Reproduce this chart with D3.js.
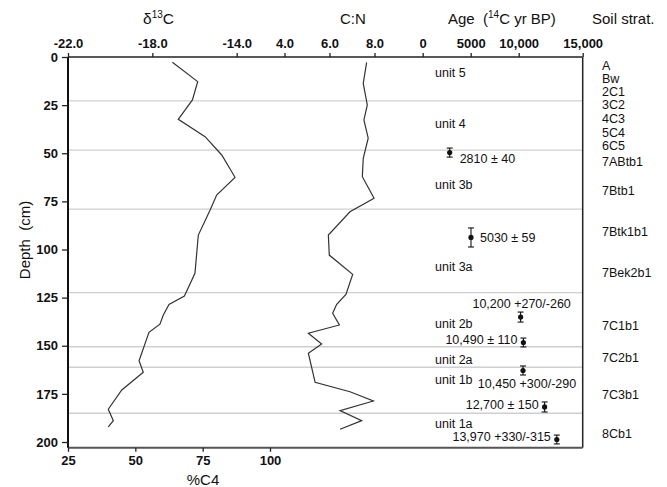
<!DOCTYPE html>
<html>
<head>
<meta charset="utf-8">
<script src="https://cdn.jsdelivr.net/npm/d3@7"></script>
<style>
  body { margin: 0; background: #fff; }
  svg { display: block; }
  text { font-family: "Liberation Sans", Arial, Helvetica, sans-serif; fill: #111; }
</style>
</head>
<body>
<svg id="chart" width="667" height="487"></svg>
<script>
// Stable carbon isotope profile (per mil, VPDB) against depth (cm)
const d13cDepth  = [2.75, 12.8, 22.3, 32.4, 41.4, 50.9, 62.5, 71.7, 79.5, 92.5, 112.4, 124.2, 128.5, 134.0, 138.8, 143.0, 157.8, 163.8, 173.0, 183.0, 188.9, 192.1];
const d13cValues = [-17.05, -15.85, -16.10, -16.77, -15.50, -14.71, -14.08, -14.95, -15.26, -15.82, -15.98, -16.48, -17.21, -17.48, -17.64, -18.16, -18.63, -18.43, -19.45, -20.09, -19.85, -20.09];

// C:N ratio against depth (cm)
const cnDepth  = [2.75, 13.7, 24.9, 32.7, 42.2, 52.6, 62.2, 73.4, 80.4, 92.5, 102.9, 112.9, 123.3, 128.5, 133.1, 139.2, 143.5, 149.1, 153.9, 169.0, 173.9, 178.7, 183.7, 188.9, 193.4];
const cnValues = [7.65, 7.50, 7.68, 7.53, 7.72, 7.50, 7.46, 7.98, 6.91, 5.95, 5.99, 7.03, 6.73, 6.32, 6.14, 6.44, 5.06, 5.65, 5.06, 5.36, 6.91, 7.95, 6.47, 7.43, 6.47];

// Stratigraphic unit boundaries and unit names (depth in cm)
const unitBoundaries = [22.8, 48.4, 79.0, 122.4, 150.5, 161.2, 185.1];
const unitNames  = ["unit 5", "unit 4", "unit 3b", "unit 3a", "unit 2b", "unit 2a", "unit 1b", "unit 1a"];
const unitDepths = [7.8, 34.3, 66.1, 108.9, 138.7, 157.0, 167.4, 190.6];

// Soil horizons
const soilHorizons = ["A", "Bw", "2C1", "3C2", "4C3", "5C4", "6C5", "7ABtb1", "7Btb1", "7Btk1b1", "7Bek2b1", "7C1b1", "7C2b1", "7C3b1", "8Cb1"];
const soilDepths   = [4.2, 11.2, 17.7, 24.7, 32.0, 39.0, 46.0, 54.5, 69.4, 90.4, 112.2, 139.5, 156.2, 175.2, 195.5];

// Radiocarbon ages (14C yr BP) with sampled depth intervals
const ageValues = [2810, 5030, 10200, 10490, 10450, 12700, 13970];
const ageLabels = ["2810 \u00b1 40", "5030 \u00b1 59", "10,200 +270/-260", "10,490 \u00b1 110", "10,450 +300/-290", "12,700 \u00b1 150", "13,970 +330/-315"];
const ageDepthTop    = [47.3, 88.8, 132.5, 146.0, 160.5, 179.2, 196.4];
const ageDepthBottom = [52.0, 98.7, 137.7, 150.6, 165.2, 184.4, 201.0];
const ageLabelSide   = ["lowerright", "right", "above", "left", "below", "left", "left"];

// Axis ticks
const depthTicks = [0, 25, 50, 75, 100, 125, 150, 175, 200];
const d13cTicks  = [-22, -18, -14];
const cnTicks    = [4, 6, 8];
const ageTicks   = [0, 5000, 10000, 15000];
const c4Ticks    = [25, 50, 75, 100];

const svg = d3.select("#chart");
const plotLeft = 68, plotRight = 582.7, plotTop = 57;

const y     = d3.scaleLinear().domain([0, 200]).range([plotTop, 442]);
const xD13  = d3.scaleLinear().domain([-22, -14]).range([68, 236.7]);
const xCN   = d3.scaleLinear().domain([4, 8]).range([284.5, 374.5]);
// age axis is compressed beyond 14,000 so that 15,000 sits on the frame edge
const xAge  = d3.scaleLinear().domain([0, 14000, 15000]).range([422.7, 557.1, 582.7]);
const xC4   = d3.scaleLinear().domain([25, 100]).range([68, 270]);
const plotBottom = y(203);

// unit boundary lines
svg.append("g").selectAll("line").data(unitBoundaries).join("line")
  .attr("x1", plotLeft).attr("x2", plotRight)
  .attr("y1", d => y(d)).attr("y2", d => y(d))
  .attr("stroke", "#cfcfcf").attr("stroke-width", 1.4);

// profiles
const lineGen = (xs, depths, vals) => d3.line()
  .x((d, i) => xs(vals[i])).y((d, i) => y(depths[i]))(depths);

svg.append("path").attr("d", lineGen(xD13, d13cDepth, d13cValues))
  .attr("fill", "none").attr("stroke", "#333").attr("stroke-width", 1.2);
svg.append("path").attr("d", lineGen(xCN, cnDepth, cnValues))
  .attr("fill", "none").attr("stroke", "#333").attr("stroke-width", 1.2);

// frame
svg.append("line").attr("x1", plotLeft).attr("x2", plotRight).attr("y1", plotTop).attr("y2", plotTop)
  .attr("stroke", "#222").attr("stroke-width", 1.5);
svg.append("line").attr("x1", plotRight).attr("x2", plotRight).attr("y1", plotTop).attr("y2", plotBottom)
  .attr("stroke", "#222").attr("stroke-width", 1.5);
svg.append("line").attr("x1", plotLeft).attr("x2", plotRight).attr("y1", plotBottom).attr("y2", plotBottom)
  .attr("stroke", "#555").attr("stroke-width", 2);
svg.append("line").attr("x1", plotLeft).attr("x2", plotLeft).attr("y1", plotTop).attr("y2", plotBottom)
  .attr("stroke", "#111").attr("stroke-width", 2);

function styleAxis(g) {
  g.select(".domain").remove();
  g.selectAll(".tick line").attr("stroke", "#222").attr("stroke-width", 1.3);
  g.selectAll(".tick text").attr("font-size", 13).attr("font-weight", "bold")
    .attr("fill", "#111").style("font-family", '"Liberation Sans", Arial, sans-serif');
}

svg.append("g").attr("transform", `translate(${plotLeft},0)`)
  .call(d3.axisLeft(y).tickValues(depthTicks).tickSize(6).tickPadding(4))
  .call(styleAxis);

svg.append("g").attr("transform", `translate(0,${plotTop})`)
  .call(d3.axisTop(xD13).tickValues(d13cTicks).tickSize(4).tickPadding(5).tickFormat(d => d.toFixed(1)))
  .call(styleAxis);
svg.append("g").attr("transform", `translate(0,${plotTop})`)
  .call(d3.axisTop(xCN).tickValues(cnTicks).tickSize(4).tickPadding(5).tickFormat(d => d.toFixed(1)))
  .call(styleAxis);
svg.append("g").attr("transform", `translate(0,${plotTop})`)
  .call(d3.axisTop(xAge).tickValues(ageTicks).tickSize(4).tickPadding(5)
    .tickFormat(d => d >= 10000 ? d3.format(",")(d) : String(d)))
  .call(styleAxis);

svg.append("g").attr("transform", `translate(0,${plotBottom})`)
  .call(d3.axisBottom(xC4).tickValues(c4Ticks).tickSize(4).tickPadding(4))
  .call(styleAxis);

// radiocarbon dates: depth interval bars, points and labels
const dates = ageValues.map((v, i) => ({
  v, label: ageLabels[i], t: ageDepthTop[i], b: ageDepthBottom[i], side: ageLabelSide[i]
}));
const dg = svg.append("g").selectAll("g").data(dates).join("g");
dg.append("line")
  .attr("x1", d => xAge(d.v)).attr("x2", d => xAge(d.v))
  .attr("y1", d => y(d.t)).attr("y2", d => y(d.b))
  .attr("stroke", "#111").attr("stroke-width", 1.1);
["t", "b"].forEach(k => {
  dg.append("line")
    .attr("x1", d => xAge(d.v) - 3).attr("x2", d => xAge(d.v) + 3)
    .attr("y1", d => y(d[k])).attr("y2", d => y(d[k]))
    .attr("stroke", "#111").attr("stroke-width", 1.1);
});
dg.append("circle")
  .attr("cx", d => xAge(d.v)).attr("cy", d => y((d.t + d.b) / 2)).attr("r", 2.6)
  .attr("fill", "#111");

const place = {
  lowerright: { anchor: "start",  dx: 10, dy: 10 },
  right:      { anchor: "start",  dx: 9,  dy: 5 },
  above:      { anchor: "middle", dx: 1,  dy: -9 },
  left:       { anchor: "end",    dx: -6, dy: 2 },
  below:      { anchor: "middle", dx: 4,  dy: 18 }
};
dg.append("text")
  .attr("x", d => xAge(d.v) + place[d.side].dx)
  .attr("y", d => y((d.t + d.b) / 2) + place[d.side].dy)
  .attr("text-anchor", d => place[d.side].anchor)
  .attr("font-size", 12.5)
  .text(d => d.label);

// unit names
svg.append("g").selectAll("text").data(unitNames).join("text")
  .attr("x", 435).attr("y", (d, i) => y(unitDepths[i]) + 4.5)
  .attr("font-size", 12.5).text(d => d);

// soil horizons
svg.append("g").selectAll("text").data(soilHorizons).join("text")
  .attr("x", 602).attr("y", (d, i) => y(soilDepths[i]) + 4.5)
  .attr("font-size", 12.5).text(d => d);

// column titles
const t1 = svg.append("text").attr("x", 143).attr("y", 24).attr("font-size", 15.5);
t1.append("tspan").text("\u03b4");
t1.append("tspan").attr("font-size", 10).attr("dy", -6).text("13");
t1.append("tspan").attr("dy", 6).text("C");

svg.append("text").attr("x", 340).attr("y", 24).attr("font-size", 15).text("C:N");

const t3 = svg.append("text").attr("x", 448).attr("y", 24).attr("font-size", 15)
  .style("white-space", "pre");
t3.append("tspan").text("Age  (");
t3.append("tspan").attr("font-size", 10).attr("dy", -6).text("14");
t3.append("tspan").attr("dy", 6).text("C yr BP)");

svg.append("text").attr("x", 592).attr("y", 24).attr("font-size", 15).text("Soil strat.");

svg.append("text").attr("transform", "translate(30,240) rotate(-90)")
  .attr("text-anchor", "middle").attr("font-size", 15).style("white-space", "pre")
  .text("Depth  (cm)");

svg.append("text").attr("x", 203).attr("y", 485).attr("text-anchor", "middle")
  .attr("font-size", 15).text("%C4");
</script>
</body>
</html>
